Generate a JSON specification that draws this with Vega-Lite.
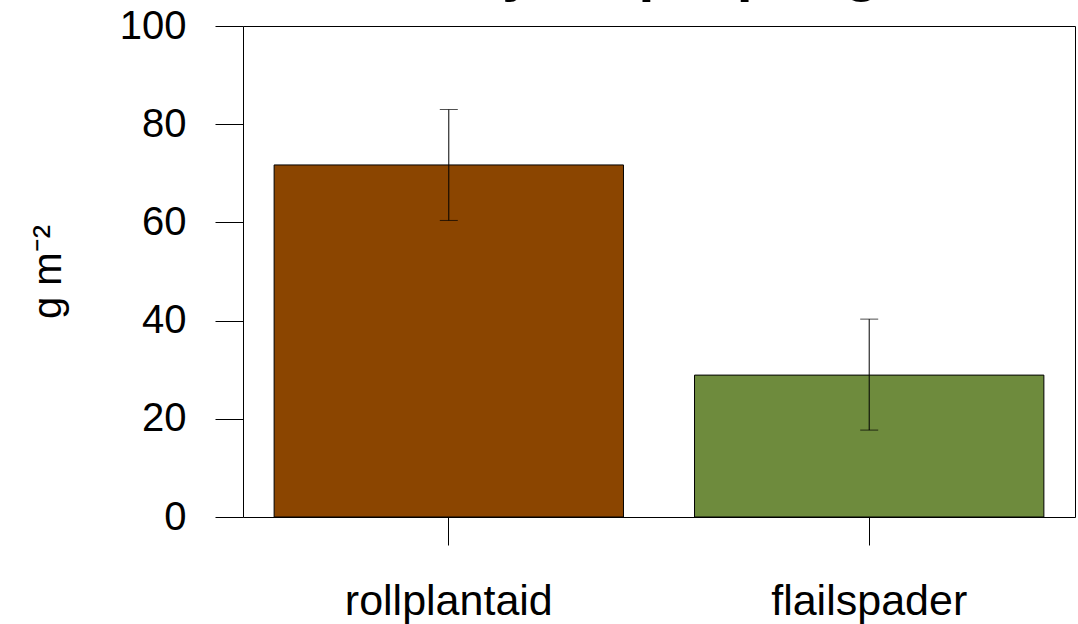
{
  "$schema": "https://vega.github.io/schema/vega-lite/v6.json",
  "autosize": {"type": "none"},
  "width": 832,
  "height": 491,
  "padding": {"left": 243, "top": 26, "right": 3, "bottom": 107},
  "background": "white",
  "title": {
    "text": "Dry crop, spring",
    "font": "Liberation Sans",
    "fontSize": 57,
    "fontWeight": "bold",
    "color": "black",
    "anchor": "middle",
    "frame": "group",
    "offset": 0,
    "dy": -4
  },
  "config": {
    "view": {"stroke": "black", "strokeWidth": 1},
    "font": "Liberation Sans",
    "axis": {
      "grid": false,
      "domain": false,
      "tickColor": "black",
      "tickWidth": 1,
      "tickSize": 28,
      "labelColor": "black",
      "labelFont": "Liberation Sans",
      "labelFontSize": 40,
      "labelLimit": 0,
      "titleFont": "Liberation Sans",
      "titleFontSize": 40,
      "titleFontWeight": "normal",
      "titleColor": "black"
    }
  },
  "data": {
    "values": [
      {"treatment": "rollplantaid", "mean": 71.7, "lower": 60.4, "upper": 83.0},
      {"treatment": "flailspader", "mean": 28.9, "lower": 17.7, "upper": 40.3}
    ]
  },
  "encoding": {
    "x": {
      "field": "treatment",
      "type": "nominal",
      "sort": null,
      "scale": {"paddingInner": 0.169, "paddingOuter": 0.074},
      "axis": {"title": null, "labelAngle": 0, "labelPadding": 35, "labelFontSize": 43}
    }
  },
  "layer": [
    {
      "mark": {"type": "bar", "stroke": "black", "strokeWidth": 1, "opacity": 1},
      "encoding": {
        "y": {
          "field": "mean",
          "type": "quantitative",
          "scale": {"domain": [0, 100], "nice": false, "zero": true},
          "axis": {"title": "g m⁻²", "values": [0, 20, 40, 60, 80, 100], "labelPadding": 29, "titlePadding": 51}
        },
        "color": {
          "field": "treatment",
          "type": "nominal",
          "scale": {"domain": ["rollplantaid", "flailspader"], "range": ["#8B4500", "#6E8B3D"]},
          "legend": null
        }
      }
    },
    {
      "mark": {"type": "rule", "color": "black", "strokeWidth": 1},
      "encoding": {
        "y": {"field": "lower", "type": "quantitative"},
        "y2": {"field": "upper"}
      }
    },
    {
      "mark": {"type": "tick", "color": "black", "size": 18, "thickness": 1},
      "encoding": {
        "y": {"field": "lower", "type": "quantitative"}
      }
    },
    {
      "mark": {"type": "tick", "color": "black", "size": 18, "thickness": 1},
      "encoding": {
        "y": {"field": "upper", "type": "quantitative"}
      }
    }
  ]
}
